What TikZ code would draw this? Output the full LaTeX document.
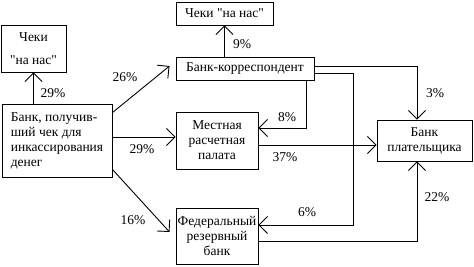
\documentclass[tikz,border=0pt]{standalone}
\usepackage{fontspec}
\setmainfont{Liberation Serif}
\usetikzlibrary{arrows.meta}
\newcommand{\dq}{\XeTeXglyph\the\XeTeXglyphindex "quotedbl"\relax}
\begin{document}
\begin{tikzpicture}[x=1pt,y=-1pt,
  box/.style={draw,line width=0.9pt,rectangle,inner sep=0pt,font=\fontsize{13.5}{15}\selectfont},
  arr/.style={draw,line width=0.9pt,-{Straight Barb[length=8.5pt,width=17pt,line width=0.9pt]}},
  lbl/.style={inner sep=0pt,font=\fontsize{13.5}{15}\selectfont}]
\useasboundingbox (0,0) rectangle (474,266);
\node[box,minimum width=65pt,minimum height=47pt,align=center] (chL) at (33.5,48.5) {Чеки\\[8pt]\dq на нас\dq};
\node[box,minimum width=110pt,minimum height=73pt,align=left] (bankL) at (57,140.5) {Банк, получив-\\ший чек для\\инкассирования\\денег};
\node[box,minimum width=97pt,minimum height=23pt] (chT) at (224.5,13.5) {Чеки \dq на нас\dq};
\node[box,minimum width=138pt,minimum height=23pt] (corr) at (245,68.5) {Банк-корреспондент};
\node[box,minimum width=82pt,minimum height=57pt,align=center] (clear) at (217,140.5) {Местная\\расчетная\\палата};
\node[box,minimum width=82pt,minimum height=56pt,align=center] (fed) at (217,236) {Федеральный\\резервный\\банк};
\node[box,minimum width=95pt,minimum height=41pt,align=center] (payer) at (424.5,140.5) {Банк\\плательщика};

\draw[arr] (bankL.north -| chL.south) -- (chL.south);
\draw[arr] ([yshift=-9pt]bankL.north east) -- ([xshift=-6pt,yshift=2.5pt]corr.west);
\draw[arr] ([yshift=3.5pt]bankL.east) -- ([yshift=3.5pt]clear.west);
\draw[arr] ([yshift=8pt]bankL.south east) -- ([xshift=-6pt,yshift=4pt]fed.west);
\draw[arr] (corr.north -| chT.south) -- (chT.south);
\draw[arr] ([xshift=-8pt]corr.south east) |- ([yshift=12.5pt]clear.east);
\draw[arr] ([yshift=2.5pt]corr.east) -| ([xshift=-7.5pt]payer.north);
\draw[arr] ([yshift=-4.5pt]corr.east) -- ++(39,0) |- ([yshift=11pt]fed.east);
\draw[arr] ([yshift=-4.5pt]clear.east) -- ([yshift=-4.5pt]payer.west);
\draw[arr] ([yshift=-5pt]fed.east) -| ([xshift=-7.5pt]payer.south);

\node[lbl] (l1) at (53,93) {29\%};
\node[lbl] (l2) at (125,77) {26\%};
\node[lbl] (l3) at (142,149) {29\%};
\node[lbl] (l4) at (133,220) {16\%};
\node[lbl] (l5) at (242,44) {9\%};
\node[lbl] (l6) at (287,117) {8\%};
\node[lbl] (l7) at (285,157) {37\%};
\node[lbl] (l8) at (307,212) {6\%};
\node[lbl] (l9) at (435,93) {3\%};
\node[lbl] (l10) at (437,197) {22\%};
\end{tikzpicture}
\end{document}
